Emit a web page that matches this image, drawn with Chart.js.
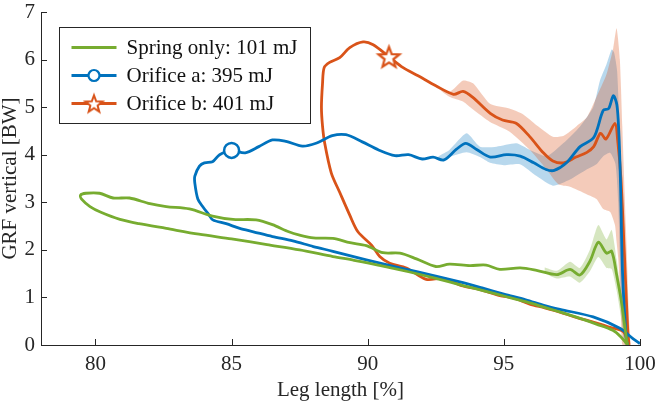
<!DOCTYPE html>
<html>
<head>
<meta charset="utf-8">
<script src="https://cdn.jsdelivr.net/npm/chart.js@4.4.1/dist/chart.umd.min.js"></script>
<style>
  html, body { margin: 0; padding: 0; background: #fff; }
  #wrap { width: 656px; height: 404px; }
</style>
</head>
<body>
<div id="wrap"><canvas id="grfChart" width="656" height="404"></canvas></div>
<script>
// tick labels
const xTicks = [80, 85, 90, 95, 100];
const yTicks = [0, 1, 2, 3, 4, 5, 6, 7];

// Spring only (green) - loop, lower branch then upper branch
const springX = [99.55, 99.3, 99.0, 98.4, 97.8, 97.2, 96.5, 95.8, 95.0, 94.2, 93.5, 92.5, 91.5, 90.56, 89.5, 88.72, 87.5, 86.3, 85.0, 83.8, 82.6, 81.6, 80.9, 80.2, 79.8, 79.5, 79.45,
  79.65, 80.15, 80.65, 81.25, 82.0, 82.6, 83.45, 84.3, 85.05, 85.9, 86.5, 87.1, 87.5, 88.0, 88.72, 89.35, 89.95, 90.56, 91.18, 91.79, 92.5, 93.0, 93.75, 94.35, 94.85, 95.6, 96.2, 96.95, 97.43, 97.79, 98.16, 98.47, 98.77, 98.96, 99.14, 99.33, 99.51, 99.55];
const springY = [0.0, 0.17, 0.31, 0.44, 0.56, 0.67, 0.79, 0.91, 1.03, 1.15, 1.25, 1.40, 1.54, 1.66, 1.78, 1.86, 2.00, 2.11, 2.23, 2.33, 2.45, 2.55, 2.64, 2.79, 2.91, 3.06, 3.15,
  3.19, 3.19, 3.09, 3.09, 2.97, 2.91, 2.86, 2.71, 2.64, 2.63, 2.53, 2.38, 2.31, 2.25, 2.24, 2.15, 2.09, 1.94, 1.93, 1.81, 1.65, 1.70, 1.67, 1.68, 1.59, 1.62, 1.57, 1.48, 1.59, 1.47, 1.76, 2.16, 1.93, 1.97, 1.48, 0.86, 0.10, 0.0];

// Orifice a (blue)
const orificeAX = [100.0, 99.75, 99.26, 98.28, 97.06, 96.5, 95.8, 95.0, 94.2, 93.5, 92.5, 91.18, 89.95, 88.72, 88.0, 87.25, 86.5, 85.8, 85.3, 84.8, 84.31, 84.15, 83.95, 83.76, 83.65,
  83.65, 83.82, 84.0, 84.3, 84.56, 85.0, 85.5, 86.0, 86.5, 87.0, 87.6, 88.1, 88.7, 89.2, 89.8, 90.4, 91.0, 91.5, 92.0, 92.4, 92.8, 93.25, 93.6, 94.0, 94.5, 95.1, 95.6, 96.1, 96.55, 96.85, 97.3, 97.8, 98.3, 98.65, 98.85, 99.02, 99.15, 99.22, 99.28, 99.36, 99.5, 99.55];
const orificeAY = [0.03, 0.13, 0.35, 0.59, 0.75, 0.83, 0.95, 1.07, 1.20, 1.31, 1.45, 1.62, 1.79, 1.97, 2.07, 2.19, 2.28, 2.38, 2.45, 2.55, 2.63, 2.75, 2.90, 3.07, 3.40,
  3.55, 3.76, 3.83, 3.85, 4.0, 4.09, 4.04, 4.17, 4.31, 4.28, 4.18, 4.24, 4.40, 4.42, 4.27, 4.10, 3.98, 4.0, 3.91, 3.95, 3.89, 4.11, 4.24, 4.11, 3.95, 4.0, 3.97, 3.83, 3.69, 3.67, 3.83, 4.17, 4.36, 4.93, 4.97, 5.24, 5.05, 4.5, 3.5, 1.5, 0.1, 0.0];
const orificeAMarker = 30;

// Orifice b (orange)
const orificeBX = [99.6, 99.39, 98.9, 98.28, 97.6, 97.06, 96.5, 95.95, 95.35, 94.85, 94.1, 93.5, 92.77, 92.15, 91.42, 90.81, 90.44, 90.14, 89.64, 89.34, 88.97, 88.66, 88.42, 88.34, 88.3, 88.34, 88.4,
  88.6, 88.97, 89.34, 89.83, 90.2, 90.78, 91.3, 91.85, 92.5, 93.15, 93.5, 93.85, 94.5, 94.95, 95.45, 95.95, 96.45, 96.8, 97.2, 97.65, 98.05, 98.3, 98.55, 98.75, 99.08, 99.18, 99.3, 99.42, 99.55, 99.6];
const orificeBY = [0.0, 0.28, 0.37, 0.48, 0.59, 0.69, 0.78, 0.86, 0.99, 1.04, 1.17, 1.24, 1.40, 1.38, 1.62, 1.72, 1.86, 2.10, 2.38, 2.73, 3.21, 3.62, 4.24, 4.6, 5.0, 5.5, 5.83,
  5.94, 6.04, 6.25, 6.37, 6.31, 6.06, 5.83, 5.66, 5.45, 5.27, 5.33, 5.21, 4.87, 4.73, 4.66, 4.38, 4.04, 3.87, 3.83, 3.95, 4.05, 4.17, 4.45, 4.33, 4.66, 4.3, 3.5, 2.0, 0.3, 0.0];
const orificeBMarker = 32;

// shaded spread bands: upper edge and lower edge
const springBandUpX = [96.5, 96.95, 97.43, 97.79, 98.16, 98.47, 98.77, 98.96, 99.14, 99.33, 99.5, 99.55];
const springBandUpY = [1.63, 1.56, 1.75, 1.62, 2.0, 2.52, 2.22, 2.42, 1.8, 1.0, 0.15, 0.0];
const springBandLoX = [96.5, 96.95, 97.43, 97.79, 98.16, 98.47, 98.77, 98.96, 99.14, 99.3, 99.45, 99.5];
const springBandLoY = [1.51, 1.40, 1.44, 1.31, 1.55, 1.85, 1.62, 1.6, 1.15, 0.6, 0.05, 0.0];

const orificeABandUpX = [92.6, 93.0, 93.63, 94.12, 94.73, 95.46, 95.96, 96.57, 97.18, 97.79, 98.28, 98.53, 98.77, 98.96, 99.05, 99.16, 99.25, 99.35, 99.5, 99.55];
const orificeABandUpY = [3.97, 4.1, 4.45, 4.17, 4.17, 4.24, 4.1, 3.97, 4.24, 4.59, 5.0, 5.56, 5.9, 6.21, 6.15, 5.76, 4.5, 2.5, 0.3, 0.0];
const orificeABandLoX = [92.6, 93.0, 93.63, 94.12, 94.49, 95.0, 95.59, 96.2, 96.8, 97.43, 98.04, 98.4, 98.65, 98.9, 99.1, 99.2, 99.3, 99.4, 99.45];
const orificeABandLoY = [3.87, 3.95, 4.05, 3.95, 3.83, 3.78, 3.8, 3.55, 3.35, 3.48, 3.69, 3.8, 3.97, 4.04, 3.8, 3.0, 1.0, 0.1, 0.0];

const orificeBBandUpX = [92.5, 93.0, 93.5, 93.87, 94.49, 95.2, 95.7, 96.2, 96.8, 97.2, 97.67, 98.04, 98.4, 98.77, 99.02, 99.14, 99.26, 99.35, 99.48, 99.6, 99.63];
const orificeBBandUpY = [5.47, 5.32, 5.56, 5.5, 5.07, 4.97, 4.85, 4.62, 4.38, 4.4, 4.6, 4.78, 5.21, 5.69, 6.25, 6.66, 6.0, 4.6, 2.5, 0.5, 0.0];
const orificeBBandLoX = [92.5, 93.0, 93.5, 93.87, 94.49, 95.2, 95.96, 96.57, 97.0, 97.4, 98.04, 98.4, 98.65, 98.9, 99.08, 99.14, 99.2, 99.28, 99.33, 99.36];
const orificeBBandLoY = [5.43, 5.22, 5.12, 4.95, 4.69, 4.49, 4.1, 3.69, 3.38, 3.33, 3.17, 3.07, 2.86, 2.8, 2.52, 2.17, 1.83, 1.0, 0.1, 0.0];

const legendLabels = ['Spring only: 101 mJ', 'Orifice a: 395 mJ', 'Orifice b: 401 mJ'];

const GREEN = '#77AC30', BLUE = '#0072BD', ORANGE = '#D95319';
const axisColor = '#262626';
const fontFam = '"Liberation Serif", "Times New Roman", serif';

const pts = (xs, ys) => xs.map((x, i) => ({ x: x, y: ys[i] }));
const band = (ux, uy, lx, ly) => pts(ux, uy).concat(pts(lx, ly).reverse());

// pentagram marker
function makeStar(r, lw) {
  const c = document.createElement('canvas');
  const s = Math.ceil(r * 2 + lw * 2 + 2);
  c.width = s; c.height = s;
  const g = c.getContext('2d');
  g.translate(s / 2, s / 2 + r * 0.1);
  g.beginPath();
  for (let i = 0; i < 10; i++) {
    const a = -Math.PI / 2 + i * Math.PI / 5;
    const rr = i % 2 ? r * 0.42 : r;
    g.lineTo(Math.cos(a) * rr, Math.sin(a) * rr);
  }
  g.closePath();
  g.fillStyle = '#fff';
  g.fill();
  g.lineWidth = lw;
  g.lineJoin = 'miter';
  g.strokeStyle = ORANGE;
  g.stroke();
  return c;
}
const starBig = makeStar(11, 2.2);
const starSmall = makeStar(9, 2);

function lineSet(xs, ys, color, label) {
  return {
    label: label,
    data: pts(xs, ys),
    showLine: true,
    borderColor: color,
    borderWidth: 2.8,
    pointRadius: 0,
    tension: 0.3,
    fill: false,
    order: 2
  };
}
function bandSet(ux, uy, lx, ly, color) {
  return {
    data: band(ux, uy, lx, ly),
    showLine: true,
    borderWidth: 0,
    borderColor: 'rgba(0,0,0,0)',
    backgroundColor: color,
    pointRadius: 0,
    tension: 0.2,
    fill: 'shape',
    order: 5
  };
}

const innerTicks = {
  id: 'innerTicks',
  afterDraw(chart) {
    const { ctx, chartArea: a, scales: { x, y } } = chart;
    ctx.save();
    ctx.strokeStyle = axisColor;
    ctx.lineWidth = 1;
    ctx.beginPath();
    x.ticks.forEach(t => {
      const px = Math.round(x.getPixelForValue(t.value)) + 0.5;
      ctx.moveTo(px, a.bottom);
      ctx.lineTo(px, a.bottom - 6);
    });
    y.ticks.forEach(t => {
      const py = Math.round(y.getPixelForValue(t.value)) + 0.5;
      ctx.moveTo(a.left, py);
      ctx.lineTo(a.left + 6, py);
    });
    ctx.stroke();
    ctx.restore();
  }
};

const boxLegend = {
  id: 'boxLegend',
  afterDraw(chart) {
    const { ctx, chartArea: a } = chart;
    const bx = a.left + 18.5, by = a.top + 15.5, bw = 251, bh = 96;
    ctx.save();
    ctx.fillStyle = '#fff';
    ctx.fillRect(bx, by, bw, bh);
    ctx.strokeStyle = axisColor;
    ctx.lineWidth = 1;
    ctx.strokeRect(bx, by, bw, bh);
    const colors = [GREEN, BLUE, ORANGE];
    ctx.font = '21px ' + fontFam;
    ctx.textBaseline = 'middle';
    legendLabels.forEach((lab, i) => {
      const cy = by + 20 + i * 28;
      const x0 = bx + 12, x1 = bx + 57, xm = (x0 + x1) / 2;
      ctx.strokeStyle = colors[i];
      ctx.lineWidth = 2.8;
      ctx.beginPath();
      ctx.moveTo(x0, cy);
      ctx.lineTo(x1, cy);
      ctx.stroke();
      if (i === 1) {
        ctx.beginPath();
        ctx.arc(xm, cy, 5.5, 0, Math.PI * 2);
        ctx.fillStyle = '#fff';
        ctx.fill();
        ctx.lineWidth = 2.2;
        ctx.stroke();
      } else if (i === 2) {
        ctx.drawImage(starSmall, xm - starSmall.width / 2, cy - starSmall.height / 2);
      }
      ctx.fillStyle = '#111';
      ctx.fillText(lab, bx + 67, cy + 1);
    });
    ctx.restore();
  }
};

const ctx = document.getElementById('grfChart').getContext('2d');
const grfChart = new Chart(ctx, {
  type: 'scatter',
  data: {
    datasets: [
      {
        data: [{ x: orificeAX[orificeAMarker], y: orificeAY[orificeAMarker] }],
        pointStyle: 'circle',
        pointRadius: 7.5,
        pointBorderWidth: 2.5,
        pointBorderColor: BLUE,
        pointBackgroundColor: '#fff',
        order: 0
      },
      {
        data: [{ x: orificeBX[orificeBMarker], y: orificeBY[orificeBMarker] }],
        pointStyle: starBig,
        pointRadius: 11,
        order: 0
      },
      lineSet(springX, springY, GREEN, legendLabels[0]),
      lineSet(orificeAX, orificeAY, BLUE, legendLabels[1]),
      lineSet(orificeBX, orificeBY, ORANGE, legendLabels[2]),
      bandSet(springBandUpX, springBandUpY, springBandLoX, springBandLoY, 'rgba(119,172,48,0.3)'),
      bandSet(orificeBBandUpX, orificeBBandUpY, orificeBBandLoX, orificeBBandLoY, 'rgba(217,83,25,0.3)'),
      bandSet(orificeABandUpX, orificeABandUpY, orificeABandLoX, orificeABandLoY, 'rgba(0,114,189,0.28)')
    ]
  },
  options: {
    responsive: false,
    animation: false,
    devicePixelRatio: 1,
    layout: { padding: { left: 0, right: 16, top: 7, bottom: 0 } },
    plugins: {
      legend: { display: false },
      tooltip: { enabled: false }
    },
    scales: {
      x: {
        type: 'linear',
        min: 78,
        max: 100,
        afterBuildTicks: s => { s.ticks = xTicks.map(v => ({ value: v })); },
        afterFit: s => { s.height = 59; s.paddingLeft = 0; s.paddingRight = 0; },
        grid: { display: false, drawTicks: false },
        border: { display: true, color: axisColor, width: 1 },
        ticks: { padding: 7, color: axisColor, font: { family: fontFam, size: 21 } },
        title: {
          display: true,
          text: 'Leg length [%]',
          color: axisColor,
          padding: { top: 0, bottom: 3 },
          font: { family: fontFam, size: 21, lineHeight: 1 }
        }
      },
      y: {
        type: 'linear',
        min: 0,
        max: 7,
        afterBuildTicks: s => { s.ticks = yTicks.map(v => ({ value: v })); },
        afterFit: s => { s.width = 41; s.paddingTop = 0; s.paddingBottom = 0; },
        grid: { display: false, drawTicks: false },
        border: { display: true, color: axisColor, width: 1 },
        ticks: { padding: 6, color: axisColor, font: { family: fontFam, size: 21 } },
        title: {
          display: true,
          text: 'GRF vertical [BW]',
          color: axisColor,
          padding: { top: 0, bottom: 0 },
          font: { family: fontFam, size: 21, lineHeight: 1 }
        }
      }
    }
  },
  plugins: [innerTicks, boxLegend]
});
</script>
</body>
</html>
